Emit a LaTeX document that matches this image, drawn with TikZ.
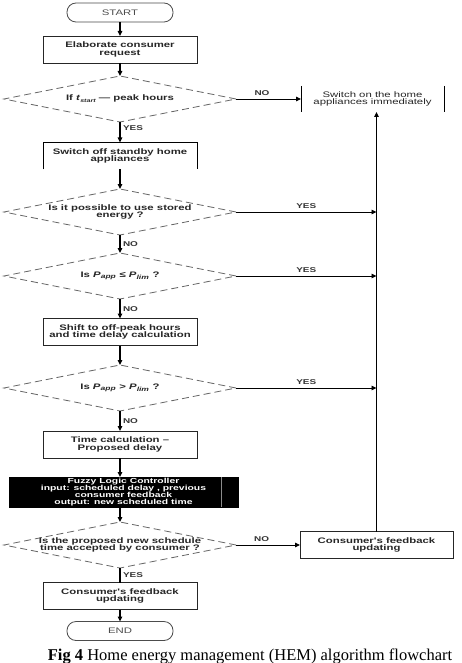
\documentclass[tikz,border=0pt]{standalone}
\usepackage{fontspec}
\setmainfont{Liberation Sans}
\newfontfamily\bxf[FakeStretch=1.42]{Liberation Sans}
\newfontfamily\capf{Liberation Serif}
\usetikzlibrary{shapes.geometric,arrows.meta}
\tikzset{
 every node/.style={inner sep=0pt, outer sep=0pt},
 txt/.style={font=\bxf\bfseries\fontsize{8}{7.5}\selectfont, text=black!85, align=center},
 box/.style={txt, draw=black!85, line width=0.9pt, minimum width=154pt, minimum height=27pt},
 plainbox/.style={txt, minimum width=154pt, minimum height=27pt},
 term/.style={font=\bxf\fontsize{8}{7.5}\selectfont, text=black!70, draw=black!70, line width=0.8pt, rounded corners=9pt, minimum width=106pt, minimum height=19pt},
 dia/.style={shape=diamond, draw=black!60, line width=0.8pt, dash pattern=on 7pt off 4pt, minimum width=232pt, minimum height=46pt, aspect=5.04},
 dtext/.style={txt},
 arr/.style={-{Triangle[length=5pt,width=4.5pt]}, line width=1.4pt, draw=black},
 harr/.style={-{Triangle[length=5pt,width=4.5pt]}, line width=0.9pt, draw=black},
 lab/.style={font=\bxf\bfseries\fontsize{7}{7}\selectfont, text=black!80},
}
\begin{document}
\begin{tikzpicture}[x=1pt,y=-1pt]
\useasboundingbox (0,0) rectangle (461,663);
\fill[white] (0,0) rectangle (461,663);
\node[term] (start) at (120,12.5) {START};
\node[box] (b1) at (120,49.5) {Elaborate consumer\\request};
\node[dia] (d1) at (120,99) {};
\node[dtext] (t1) at (d1.center) {If \textit{t}\raisebox{-0.5ex}{\fontsize{5}{5}\selectfont\itshape start} — peak hours};
\node[txt, font=\bxf\fontsize{8}{7.5}\selectfont, minimum width=143pt, minimum height=26pt] (on) at (372.5,99) {Switch on the home\\appliances immediately};
\draw[line width=0.9pt] (on.north west) -- (on.south west) (on.north east) -- (on.south east);
\node[plainbox] (b2) at (120,156) {Switch off standby home\\appliances};
\draw[line width=0.9pt] (b2.south west) -- (b2.north west) -- (b2.north east) -- (b2.south east);
\node[dia] (d2) at (120,212) {};
\node[dtext] (t2) at (d2.center) {Is it possible to use stored\\energy ?};
\node[dia] (d3) at (120,276) {};
\node[dtext] (t3) at (d3.center) {Is \textit{P}\textsubscript{\textit{app}} ≤ \textit{P}\textsubscript{\textit{lim}} ?};
\node[box] (b3) at (120,332) {Shift to off-peak hours\\and time delay calculation};
\node[dia] (d4) at (120,388) {};
\node[dtext] (t4) at (d4.center) {Is \textit{P}\textsubscript{\textit{app}} > \textit{P}\textsubscript{\textit{lim}} ?};
\node[box] (b4) at (120,444.5) {Time calculation –\\Proposed delay};
\node[box, fill=black, text=white, minimum width=229pt, minimum height=30pt, draw=black, font=\bxf\bfseries\fontsize{7.3}{6.9}\selectfont] (fz) at (123.5,492) {Fuzzy Logic Controller\\input: scheduled delay , previous\\consumer feedback\\output: new scheduled time};
\draw[black!45, line width=0.6pt] ([xshift=-17pt]fz.north east) -- ([xshift=-17pt]fz.south east);
\node[dia] (d5) at (120,545) {};
\node[dtext] (t5) at (d5.center) {Is the proposed new schedule\\time accepted by consumer ?};
\node[box, minimum width=153pt] (fb) at (376.5,545) {Consumer's feedback\\updating};
\node[box] (b5) at (120,596) {Consumer's feedback\\updating};
\node[term] (end) at (120,631) {END};
\node[font=\capf\fontsize{16.5}{16.5}\selectfont, anchor=base] (cap) at (250,660) {\textbf{Fig 4} Home energy management (HEM) algorithm flowchart};
\draw[arr] (start) -- (b1);
\draw[arr] (b1) -- (d1);
\draw[arr] (d1) -- node[lab, pos=0.3, right=3pt]{YES} (b2);
\draw[harr] (d1) -- node[lab, pos=0.4, above=3pt]{NO} (on);
\draw[arr] (b2) -- (d2);
\draw[harr] (d2.east) -- node[lab,above=3pt]{YES} (d2.east -| fb.north);
\draw[arr] (d2) -- node[lab, right=3pt]{NO} (d3);
\draw[harr] (d3.east) -- node[lab,above=3pt]{YES} (d3.east -| fb.north);
\draw[arr] (d3) -- node[lab,right=3pt]{NO} (b3);
\draw[arr] (b3) -- (d4);
\draw[harr] (d4.east) -- node[lab,above=3pt]{YES} (d4.east -| fb.north);
\draw[arr] (d4) -- node[lab,right=3pt]{NO} (b4);
\draw[arr] (b4) -- (b4.south |- fz.north);
\draw[arr] (d5.north |- fz.south) -- (d5);
\draw[harr] (d5) -- node[lab,pos=0.4,above=3pt]{NO} (fb);
\draw[line width=1.4pt] (d5) -- node[lab,pos=0.5,right=3pt]{YES} (b5);
\draw[arr] (b5) -- (end);
\draw[arr] (fb.north) -- (fb.north |- on.south);
\end{tikzpicture}
\end{document}
